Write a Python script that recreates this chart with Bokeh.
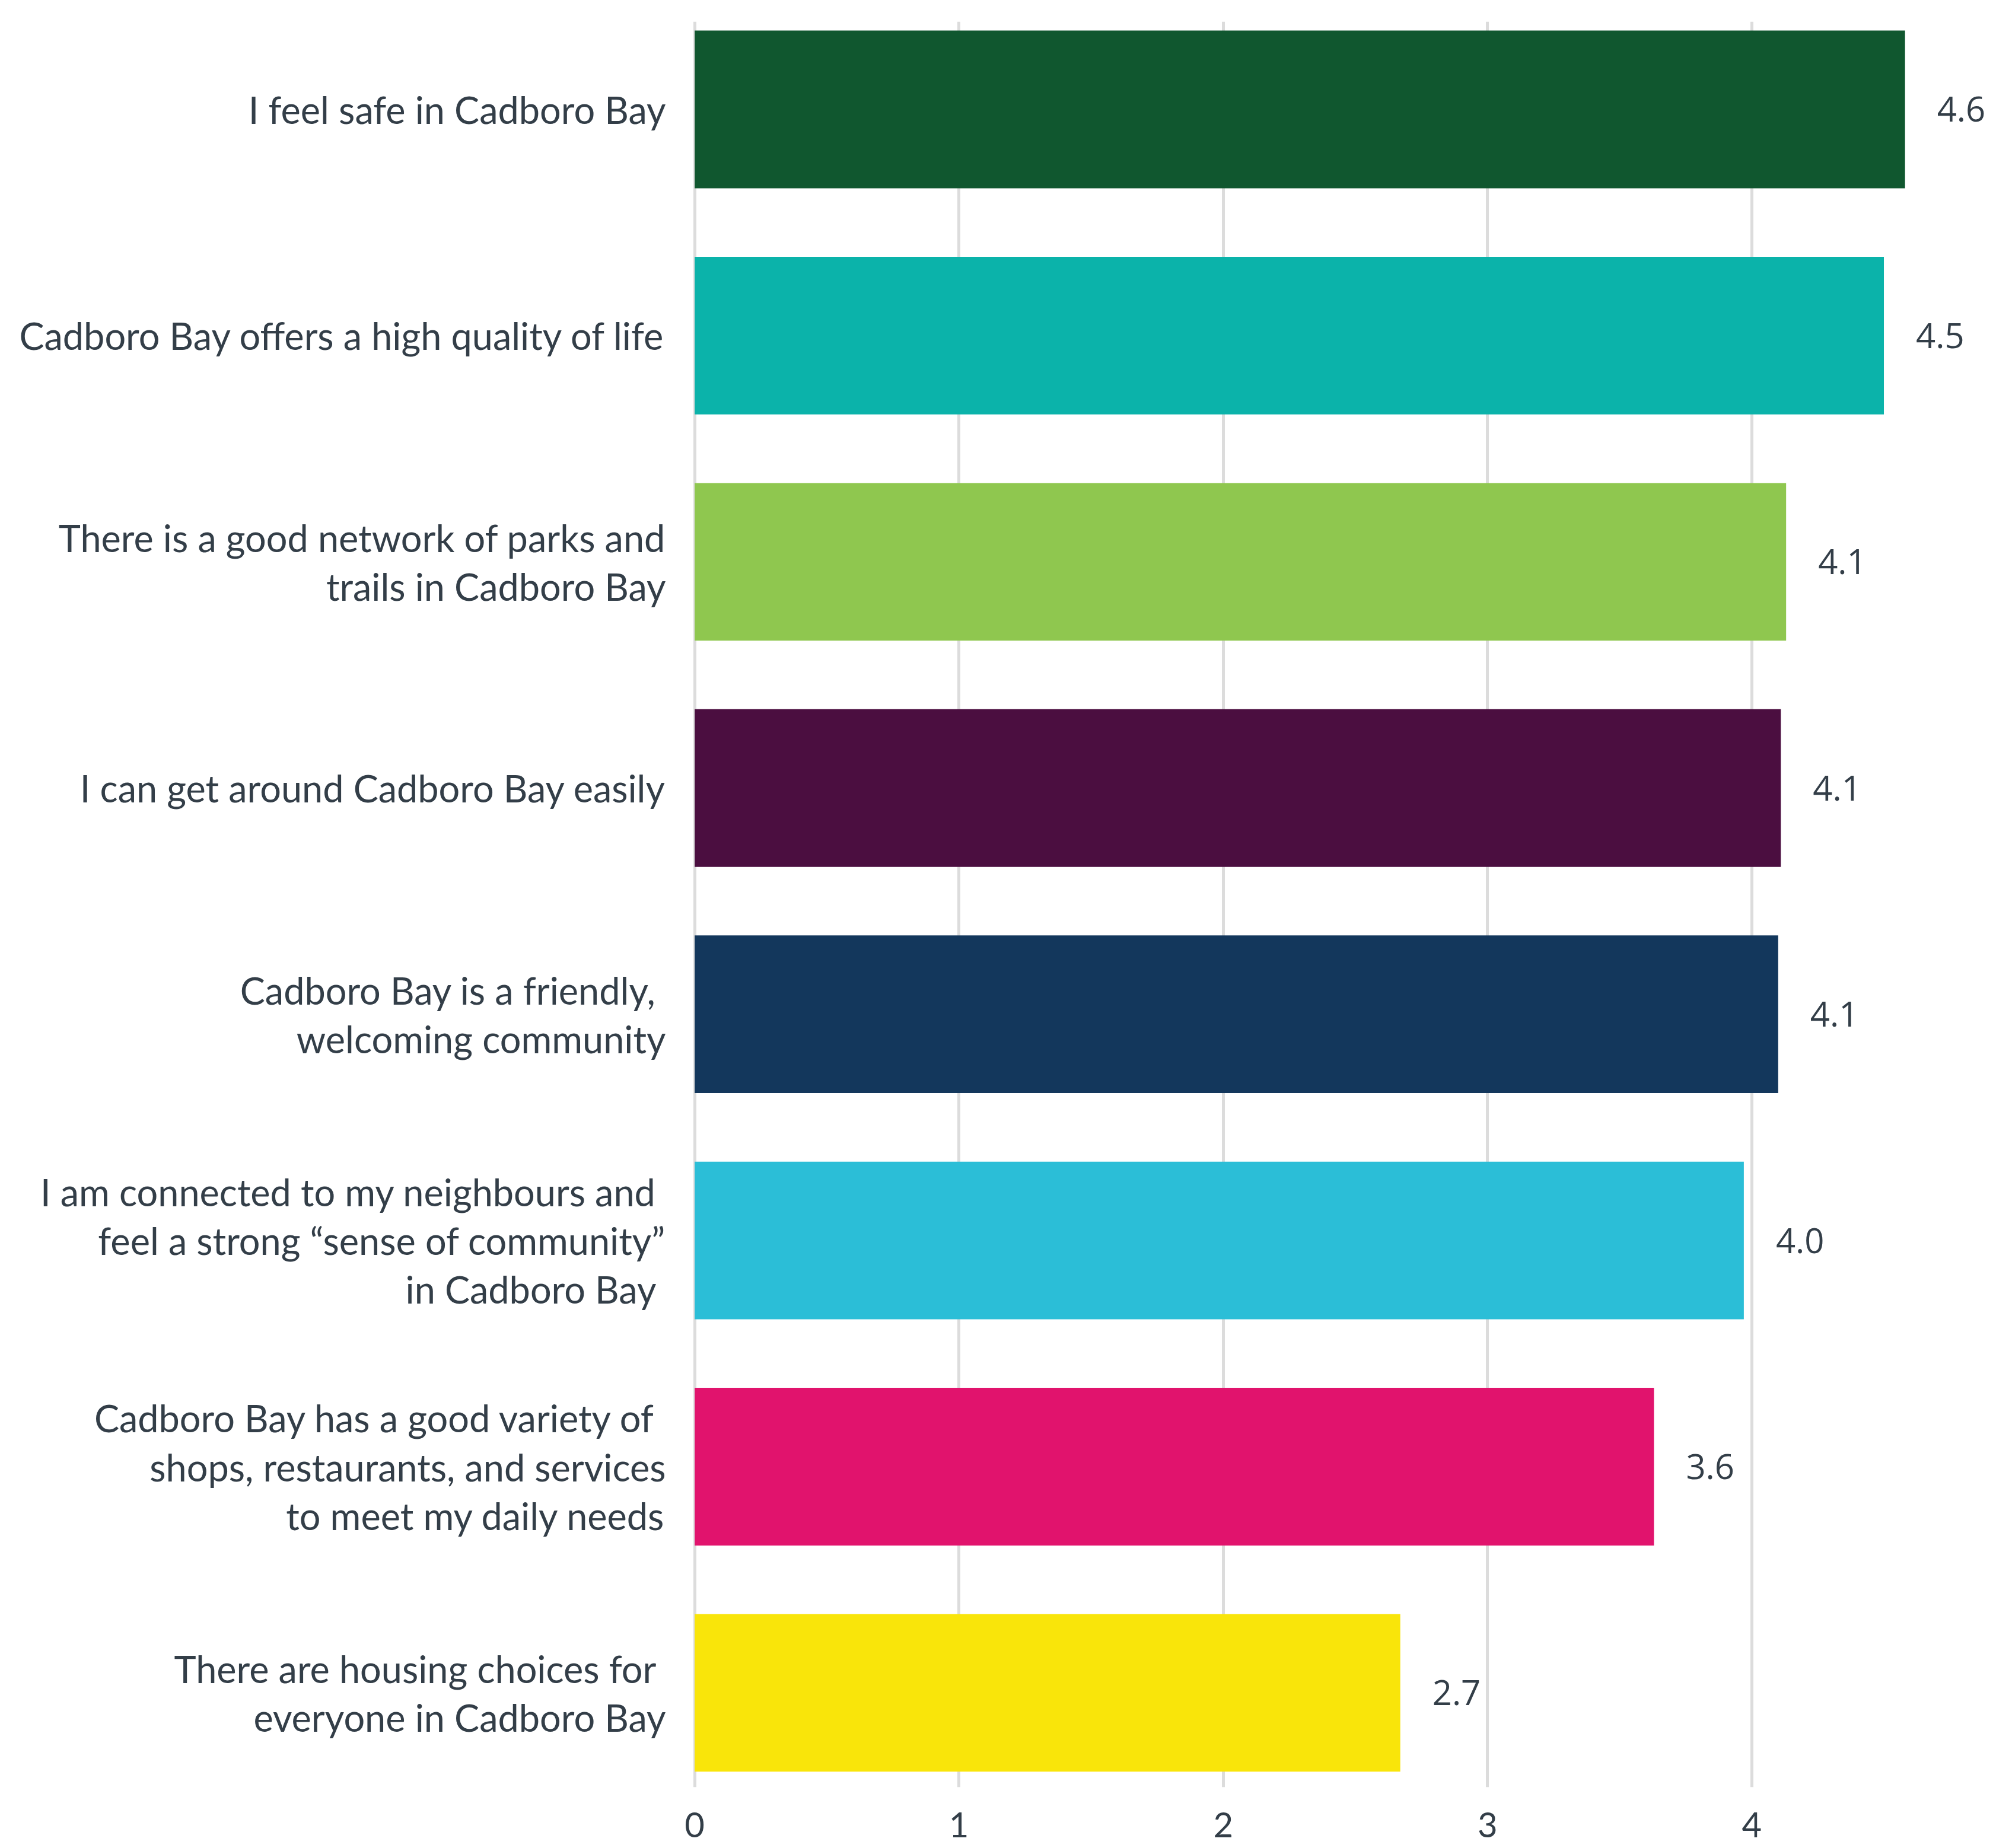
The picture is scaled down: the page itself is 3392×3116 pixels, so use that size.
from bokeh.plotting import figure
from bokeh.models import ColumnDataSource, Range1d, FixedTicker
from bokeh.embed import file_html
from bokeh.resources import INLINE
from bokeh.core.properties import value

statements = [
    "I feel safe in Cadboro Bay",
    "Cadboro Bay offers a high quality of life",
    "There is a good network of parks and\ntrails in Cadboro Bay",
    "I can get around Cadboro Bay easily",
    "Cadboro Bay is a friendly, \nwelcoming community",
    "I am connected to my neighbours and \nfeel a strong \u201csense of community\u201d\nin Cadboro Bay ",
    "Cadboro Bay has a good variety of \nshops, restaurants, and services\nto meet my daily needs",
    "There are housing choices for \neveryone in Cadboro Bay",
]
scores = [4.58, 4.50, 4.13, 4.11, 4.10, 3.97, 3.63, 2.67]
score_labels = ["4.6", "4.5", "4.1", "4.1", "4.1", "4.0", "3.6", "2.7"]
colors = ["#10572f", "#0bb3aa", "#8fc74f", "#4b0e40", "#13375c", "#2bbed7", "#e1136d", "#f9e50a"]
x_ticks = [0, 1, 2, 3, 4, 5]

n = len(statements)
ypos = [n - 1 - i for i in range(n)]

src = ColumnDataSource(dict(y=ypos, score=scores, label=score_labels, color=colors))

TEXT = "#333e48"
LABEL_FONT = "Lato"

p = figure(width=3376, height=3116, output_backend="svg", toolbar_location=None,
           x_range=Range1d(-0.006, 4.950), y_range=Range1d(-0.417, 7.388),
           min_border_left=1168, min_border_right=0, min_border_top=36, min_border_bottom=103)
p.outline_line_color = None
p.background_fill_color = "white"

p.hbar(y="y", right="score", left=0, height=0.697, color="color", line_color=None, source=src)
p.text(x="score", y="y", text="label", source=src, x_offset=54, text_baseline="middle",
       text_align="left", text_font=value("Open Sans"), text_font_size="58px", text_color=TEXT)

p.xgrid.ticker = FixedTicker(ticks=x_ticks)
p.xgrid.grid_line_color = "#dcdcdc"
p.xgrid.grid_line_width = 5
p.ygrid.grid_line_color = None

p.xaxis.ticker = FixedTicker(ticks=x_ticks)
p.xaxis.axis_line_color = None
p.xaxis.major_tick_line_color = None
p.xaxis.minor_tick_line_color = None
p.xaxis.major_label_standoff = 36
p.xaxis.major_label_text_font = LABEL_FONT
p.xaxis.major_label_text_font_size = "58px"
p.xaxis.major_label_text_color = TEXT
p.xaxis.major_label_text_line_height = 0.75

p.yaxis.ticker = FixedTicker(ticks=ypos)
p.yaxis.major_label_overrides = {y: s for y, s in zip(ypos, statements)}
p.yaxis.axis_line_color = None
p.yaxis.major_tick_line_color = None
p.yaxis.minor_tick_line_color = None
p.yaxis.major_label_standoff = 40
p.yaxis.major_label_text_font = LABEL_FONT
p.yaxis.major_label_text_font_size = "63px"
p.yaxis.major_label_text_color = TEXT
p.yaxis.major_label_text_line_height = 1.095
p.yaxis.major_label_text_align = "right"

open("out.html", "w").write(file_html(p, INLINE))
